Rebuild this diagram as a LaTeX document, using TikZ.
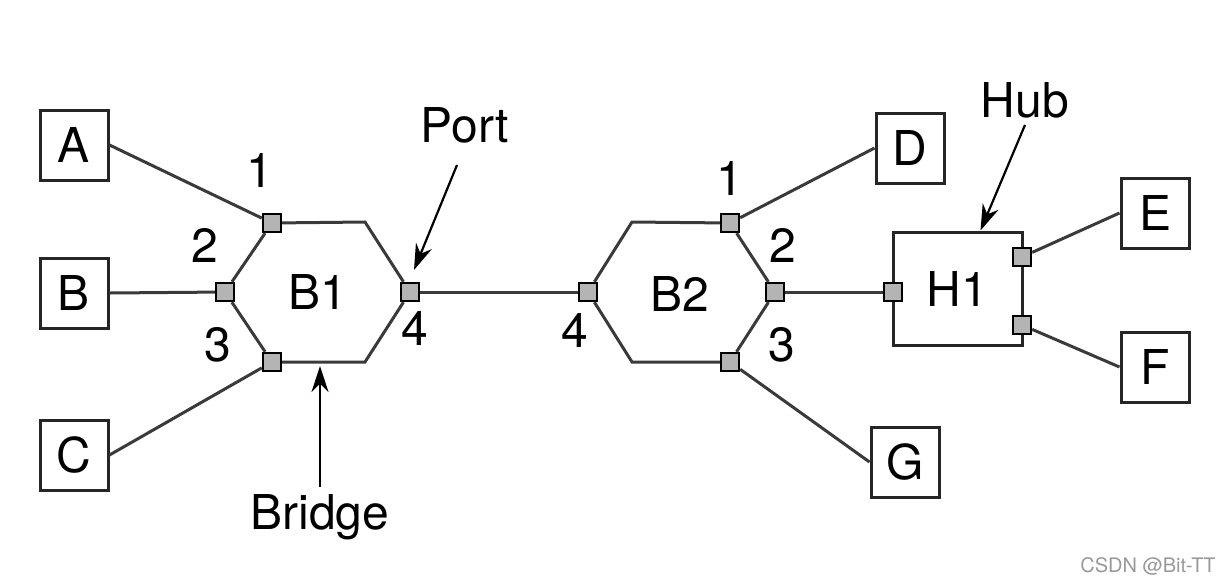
\documentclass[tikz,border=0pt]{standalone}
\usepackage{fontspec}
\setmainfont{TeX Gyre Heros}
\usetikzlibrary{arrows.meta,positioning}
\definecolor{PortGray}{HTML}{B4B4B4}
\definecolor{WireGray}{HTML}{3A3A3A}

\begin{document}
\begin{tikzpicture}[x=0.5pt,y=-0.5pt,
    font=\fontsize{24}{28}\selectfont,
    station/.style={draw=black!85, line width=1.5pt,
                    minimum width=34pt, minimum height=35pt, inner sep=0pt},
    port/.style={draw=black, fill=PortGray, line width=1.2pt,
                 minimum size=9pt, inner sep=0pt},
    wire/.style={draw=WireGray, line width=1.5pt},
    pointer/.style={draw=black, line width=1.1pt,
                    -{Stealth[length=13pt,width=8.5pt]}}]
  \useasboundingbox (0,0) rectangle (1226,585);

  % stations
  \node[station] (A) at (74,145) {A};
  \node[station] (B) at (74,293) {B};
  \node[station] (C) at (74,455) {C};
  \node[station] (D) at (910,148) {D};
  \node[station] (E) at (1155,213) {E};
  \node[station] (F) at (1155,367) {F};
  \node[station] (G) at (905,462) {G};

  % bridge B1
  \node[port] (b1p1) at (272,223) {};
  \node[port] (b1p2) at (225,292) {};
  \node[port] (b1p3) at (272,362) {};
  \node[port] (b1p4) at (410,292) {};
  \coordinate (b1tr) at (365,222);
  \coordinate (b1br) at (365,362);
  \draw[wire] (b1p1) -- (b1tr) -- (b1p4) -- (b1br) -- (b1p3) -- (b1p2) -- (b1p1);
  \node at (318,292) {B1};
  \node at (260,170) {1};
  \node at (205,245) {2};
  \node at (218,345) {3};
  \node at (415,328) {4};

  % bridge B2
  \node[port] (b2p4) at (588,292) {};
  \node[port] (b2p1) at (730,223) {};
  \node[port] (b2p2) at (775,292) {};
  \node[port] (b2p3) at (730,362) {};
  \coordinate (b2tl) at (632,222);
  \coordinate (b2bl) at (632,362);
  \draw[wire] (b2p4) -- (b2tl) -- (b2p1) -- (b2p2) -- (b2p3) -- (b2bl) -- (b2p4);
  \node at (680,294) {B2};
  \node at (730,178) {1};
  \node at (783,245) {2};
  \node at (782,345) {3};
  \node at (575,330) {4};

  % hub H1
  \node[draw=black!85, line width=1.5pt, minimum width=64.5pt,
        minimum height=56.5pt, inner sep=0pt] (h1) at (957.5,288.5) {H1};
  \node[port] (h1w) at (893,292) {};
  \node[port] (h1e) at (1022,257) {};
  \node[port] (h1f) at (1022,325) {};

  % links
  \draw[wire] (A.east) -- (b1p1);
  \draw[wire] (B.east) -- (b1p2);
  \draw[wire] (C.east) -- (b1p3);
  \draw[wire] (b1p4) -- (b2p4);
  \draw[wire] (b2p1) -- (D.west);
  \draw[wire] (b2p3) -- (G.west);
  \draw[wire] (b2p2) -- (h1w);
  \draw[wire] (h1e) -- (E.west);
  \draw[wire] (h1f) -- (F.west);

  % callouts
  \node (portlbl) at (465,125) {Port};
  \node (bridgelbl) at (320,517) {Bridge};
  \node (hublbl) at (1025,100) {Hub};
  \coordinate (porttip) at (414,270);
  \coordinate (bridgetip) at (320,366);
  \draw[pointer] (457,165) -- (porttip);
  \draw[pointer] (bridgelbl.north) -- (bridgetip);
  \draw[pointer] (hublbl.south) -- ([xshift=11.5pt]h1.north);

  \node[text=black!40, font=\fontsize{10}{12}\selectfont] (mark) at (1148,566) {CSDN @Bit-TT};
\end{tikzpicture}
\end{document}
